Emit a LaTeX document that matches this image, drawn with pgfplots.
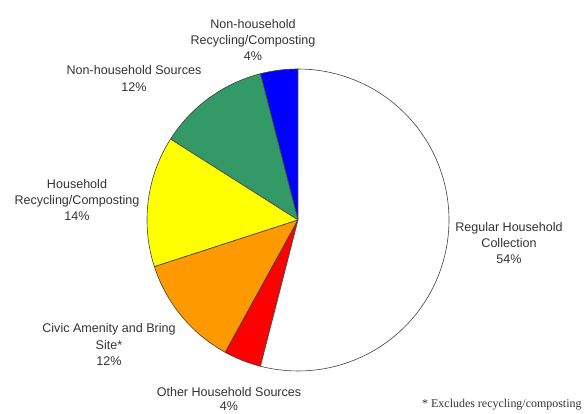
\documentclass[border=0pt]{standalone}
\usepackage{pgfplots}
\usepackage{pgfplotstable}
\pgfplotsset{compat=1.18}
\usepackage{fontspec}
\setmainfont{Liberation Sans}
\newfontfamily\seriffont{Liberation Serif}
\definecolor{nhrc}{HTML}{0000FF}
\definecolor{nhs}{HTML}{339966}
\definecolor{hrc}{HTML}{FFFF00}
\definecolor{civic}{HTML}{FF9900}
\definecolor{other}{HTML}{FF0000}
\definecolor{regular}{HTML}{FFFFFF}
\definecolor{txt}{HTML}{333333}
\tikzset{lbl/.style={font=\fontsize{12.6}{16.5}\selectfont, text=txt, align=center, inner sep=0pt}}

% slices counter-clockwise from 12 o'clock
\pgfplotstableread{
value color
4 nhrc
12 nhs
14 hrc
12 civic
4 other
54 regular
}\piedata

\begin{document}
\begin{tikzpicture}
\begin{axis}[
  scale only axis, width=586bp, height=414bp,
  xmin=0, xmax=586, ymin=0, ymax=414,
  hide axis, clip=false,
]
\pgfplotstablegetrowsof{\piedata}
\pgfmathtruncatemacro\N{\pgfplotsretval-1}
\def\cum{0}
\pgfplotsforeachungrouped \i in {0,...,\N}{%
  \pgfplotstablegetelem{\i}{value}\of\piedata \let\v\pgfplotsretval
  \pgfplotstablegetelem{\i}{color}\of\piedata \let\c\pgfplotsretval
  \pgfmathsetmacro\a{90+3.6*\cum}%
  \pgfmathsetmacro\b{90+3.6*(\cum+\v)}%
  \edef\doplot{\noexpand\addplot[fill=\c, draw=black!75, line width=0.6pt, line join=round, domain=\a:\b, samples=80, variable=\noexpand\t, mark=none]
    ({298+151*cos(\noexpand\t)},{194+151*sin(\noexpand\t)}) -- (298,194) -- cycle;}%
  \doplot
  \pgfmathsetmacro\cum{\cum+\v}%
}
\node[lbl] at (253,374) {Non-household\\Recycling/Composting\\4\%};
\node[lbl] at (134,335.5) {Non-household Sources\\12\%};
\node[lbl] at (77,214) {Household\\Recycling/Composting\\14\%};
\node[lbl] at (109,69.5) {Civic Amenity and Bring\\Site*\\12\%};
\node[lbl, font=\fontsize{12.6}{14.5}\selectfont] at (229,15) {Other Household Sources\\4\%};
\node[lbl] at (509,171) {Regular Household\\Collection\\54\%};
\node[anchor=west, inner sep=0pt, text=txt, font=\seriffont\fontsize{12}{14}\selectfont] at (422,9) {* Excludes recycling/composting};
\end{axis}
\pgfresetboundingbox
\path (0,0) rectangle (586bp,414bp);
\end{tikzpicture}
\end{document}
